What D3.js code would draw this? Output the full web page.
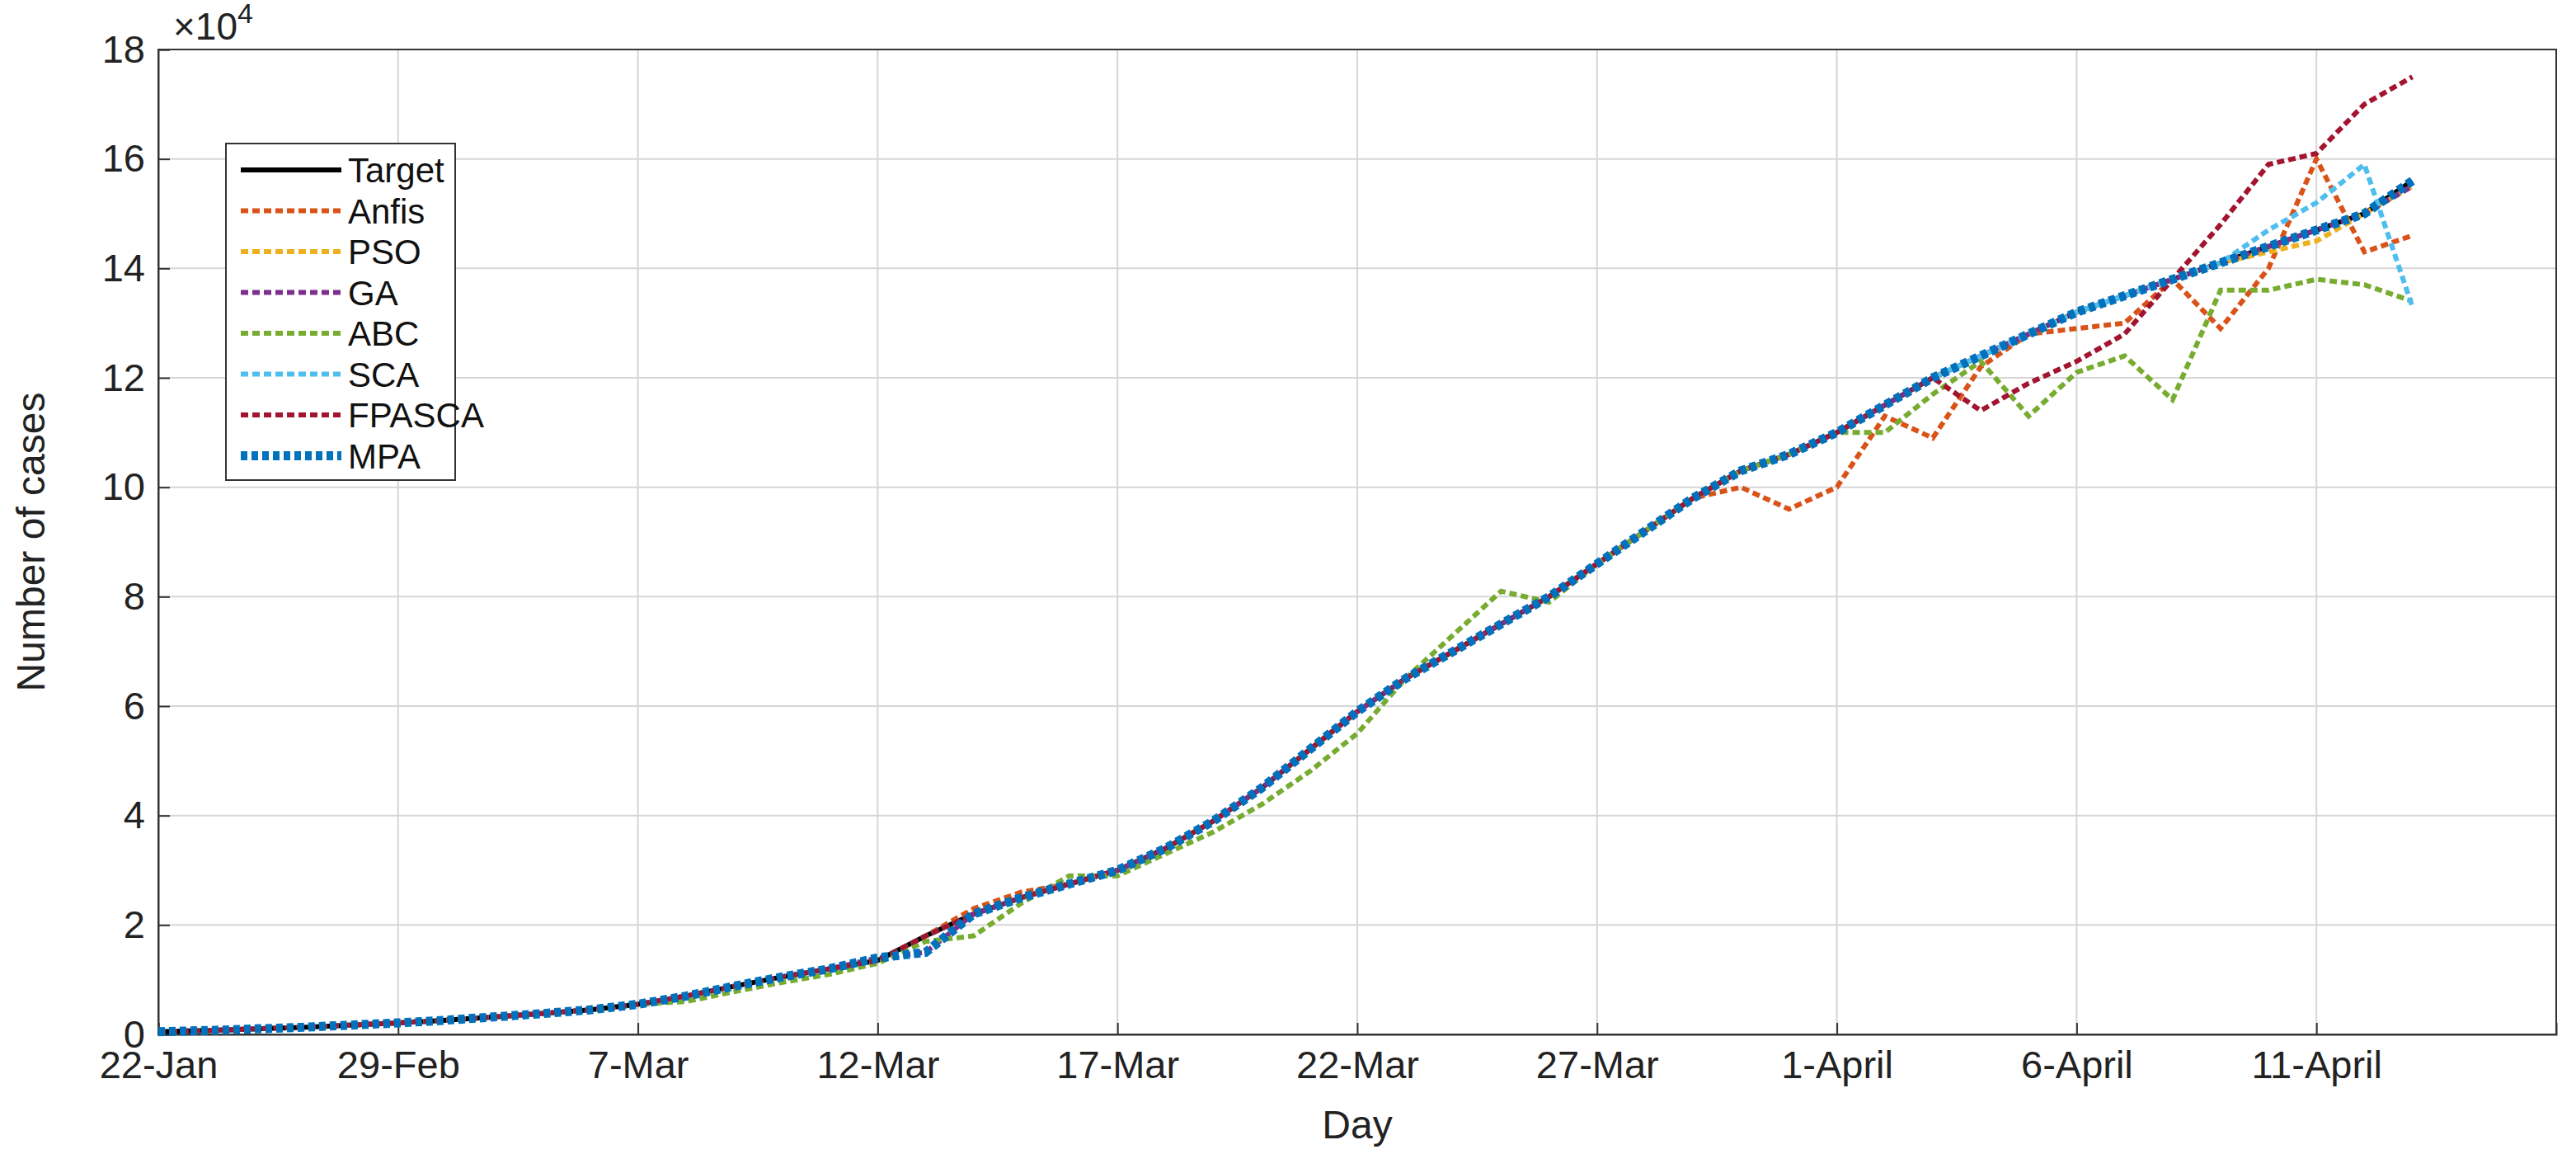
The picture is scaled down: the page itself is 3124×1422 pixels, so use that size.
<!DOCTYPE html>
<html><head><meta charset="utf-8">
<script src="https://cdn.jsdelivr.net/npm/d3@7"></script>
<style>body{margin:0;background:#fff}text{font-family:Helvetica,"Liberation Sans",Arial,sans-serif}</style>
</head><body>
<svg id="chart" width="3124" height="1422"></svg>
<script>
// values in units of 1e4 cases, one per day from 22-Jan
var tickLabels = ["22-Jan","29-Feb","7-Mar","12-Mar","17-Mar","22-Mar","27-Mar","1-April","6-April","11-April"];
var target = [0.05,0.07,0.1,0.13,0.17,0.21,0.26,0.32,0.38,0.45,0.55,0.7,0.88,1.05,1.2,1.35,1.8,2.2,2.5,2.75,3.0,3.4,3.9,4.5,5.2,5.9,6.5,7.0,7.5,8.0,8.6,9.2,9.8,10.3,10.6,11.0,11.5,12.0,12.4,12.8,13.2,13.5,13.8,14.1,14.4,14.7,15.0,15.6];
var anfisChanges  = {17:2.3,18:2.6,33:10.0,34:9.6,35:10.0,36:11.3,37:10.9,38:12.2,40:12.9,41:13.0,42:13.8,43:12.9,44:14.0,45:16.0,46:14.3,47:14.6};
var psoChanges    = {44:14.3,45:14.5,46:15.0,47:15.5};
var gaChanges     = {15:1.4,16:1.5,47:15.5};
var abcChanges    = {11:0.6,12:0.78,13:0.95,14:1.1,15:1.3,16:1.7,17:1.8,18:2.4,19:2.9,20:2.9,21:3.3,22:3.7,23:4.2,24:4.8,25:5.5,26:6.5,27:7.3,28:8.1,29:7.9,36:11.0,37:11.7,38:12.3,39:11.3,40:12.1,41:12.4,42:11.6,43:13.6,44:13.6,45:13.8,46:13.7,47:13.4};
var scaChanges    = {44:14.7,45:15.2,46:15.9,47:13.3};
var fpascaChanges = {37:12.0,38:11.4,39:11.9,40:12.3,41:12.8,42:13.8,43:14.8,44:15.9,45:16.1,46:17.0,47:17.5};
var mpaChanges    = {15:1.4,16:1.5};

function withChanges(base, ch) { return base.map(function(v, i) { return ch[i] !== undefined ? ch[i] : v; }); }

var series = [
  {name:"Target", color:"#000000", values:target, dash:null, w:6},
  {name:"Anfis", color:"#D95319", values:withChanges(target, anfisChanges), dash:"9,5", w:6},
  {name:"PSO", color:"#EDB120", values:withChanges(target, psoChanges), dash:"9,5", w:6},
  {name:"GA", color:"#7E2F8E", values:withChanges(target, gaChanges), dash:"9,5", w:6},
  {name:"ABC", color:"#77AC30", values:withChanges(target, abcChanges), dash:"9,5", w:6},
  {name:"SCA", color:"#4DBEEE", values:withChanges(target, scaChanges), dash:"9,5", w:6},
  {name:"FPASCA", color:"#A2142F", values:withChanges(target, fpascaChanges), dash:"9,5", w:6},
  {name:"MPA", color:"#0072BD", values:withChanges(target, mpaChanges), dash:"8,5", w:11}
];

var margin = {top: 60, right: 24, bottom: 168, left: 192},
    width = 3124 - margin.left - margin.right,
    height = 1422 - margin.top - margin.bottom;

var svg = d3.select("#chart").append("g")
    .attr("transform", "translate(" + margin.left + "," + margin.top + ")");

var x = d3.scaleLinear().domain([0, 50]).range([0, width]);
var y = d3.scaleLinear().domain([0, 18]).range([height, 0]);

// grid
svg.append("g").selectAll("line").data(d3.range(5, 50, 5)).enter().append("line")
   .attr("x1", x).attr("x2", x).attr("y1", 0).attr("y2", height)
   .attr("stroke", "#d6d6d6").attr("stroke-width", 2);
svg.append("g").selectAll("line").data(d3.range(2, 18, 2)).enter().append("line")
   .attr("y1", y).attr("y2", y).attr("x1", 0).attr("x2", width)
   .attr("stroke", "#d6d6d6").attr("stroke-width", 2);

// axes
var xAxis = svg.append("g").attr("transform", "translate(0," + height + ")")
   .call(d3.axisBottom(x).tickValues(d3.range(0, 50, 5)).tickSize(-14).tickPadding(20)
   .tickFormat(function(d, i) { return tickLabels[i]; }));
var yAxis = svg.append("g")
   .call(d3.axisLeft(y).tickValues(d3.range(0, 19, 2)).tickSize(-14).tickPadding(16));
[xAxis, yAxis].forEach(function(a) {
  a.selectAll("text").attr("font-size", 47).attr("fill", "#222");
  a.selectAll("line").attr("stroke", "#333").attr("stroke-width", 2);
  a.select(".domain").attr("stroke", "#333").attr("stroke-width", 2);
});
svg.append("rect").attr("width", width).attr("height", height)
   .attr("fill", "none").attr("stroke", "#333").attr("stroke-width", 2);

var line = d3.line().x(function(d, i) { return x(i); }).y(function(d) { return y(d); });
series.forEach(function(s) {
  svg.append("path").datum(s.values).attr("d", line).attr("fill", "none")
     .attr("stroke", s.color).attr("stroke-width", s.w)
     .attr("stroke-dasharray", s.dash);
});

// labels
svg.append("text").attr("x", width / 2).attr("y", height + 126).attr("text-anchor", "middle")
   .attr("font-size", 48).attr("fill", "#222").text("Day");
svg.append("text").attr("transform", "translate(-138," + height / 2 + ") rotate(-90)")
   .attr("text-anchor", "middle").attr("font-size", 48).attr("fill", "#222").text("Number of cases");
var exp = svg.append("text").attr("x", 18).attr("y", -12).attr("font-size", 46).attr("fill", "#222");
exp.append("tspan").text("×10");
exp.append("tspan").attr("dy", -20).attr("font-size", 34).text("4");

// legend
var lg = svg.append("g").attr("transform", "translate(82,114)");
lg.append("rect").attr("width", 278).attr("height", 408).attr("fill", "#fff")
  .attr("stroke", "#333").attr("stroke-width", 2);
series.forEach(function(s, i) {
  var yy = 32 + i * 49.5;
  lg.append("line").attr("x1", 18).attr("x2", 140).attr("y1", yy).attr("y2", yy)
    .attr("stroke", s.color).attr("stroke-width", s.w).attr("stroke-dasharray", s.dash);
  lg.append("text").attr("x", 148).attr("y", yy + 15).attr("font-size", 42).attr("fill", "#111").text(s.name);
});
</script>
</body></html>
